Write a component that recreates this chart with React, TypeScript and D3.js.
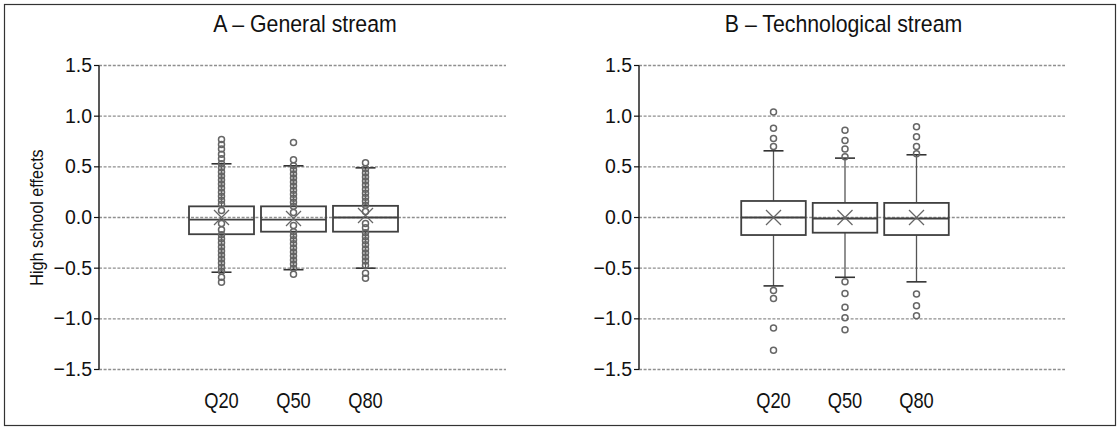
import React from "react";
import * as d3 from "d3";

const categories = ["Q20", "Q50", "Q80"];
const yTicks = [1.5, 1.0, 0.5, 0.0, -0.5, -1.0, -1.5];

// Panel A – General stream
const aTitle = "A – General stream";
const aLowerWhisker = [-0.54, -0.515, -0.5];
const aQ1 = [-0.165, -0.14, -0.14];
const aMedian = [-0.02, -0.02, 0.0];
const aQ3 = [0.11, 0.11, 0.115];
const aUpperWhisker = [0.53, 0.51, 0.49];
const aMean = [0.0, -0.01, 0.02];
const aPointsQ20 = [0.77, 0.72, 0.675, 0.625, 0.58, 0.53, 0.49, 0.45, 0.41, 0.37, 0.33, 0.29, 0.25, 0.21, 0.17, 0.13, 0.07, -0.06, -0.12, -0.17, -0.21, -0.25, -0.29, -0.33, -0.37, -0.41, -0.45, -0.49, -0.53, -0.59, -0.64];
const aPointsQ50 = [0.74, 0.57, 0.51, 0.47, 0.43, 0.39, 0.35, 0.31, 0.27, 0.23, 0.19, 0.15, 0.11, 0.05, -0.08, -0.14, -0.18, -0.22, -0.26, -0.3, -0.34, -0.38, -0.42, -0.46, -0.5, -0.56];
const aPointsQ80 = [0.54, 0.48, 0.44, 0.4, 0.36, 0.32, 0.28, 0.24, 0.2, 0.16, 0.12, 0.06, -0.06, -0.1, -0.15, -0.19, -0.23, -0.27, -0.31, -0.35, -0.39, -0.43, -0.47, -0.55, -0.6];

// Panel B – Technological stream
const bTitle = "B – Technological stream";
const bLowerWhisker = [-0.675, -0.59, -0.635];
const bQ1 = [-0.173, -0.15, -0.173];
const bMedian = [0.0, -0.01, -0.01];
const bQ3 = [0.163, 0.144, 0.144];
const bUpperWhisker = [0.658, 0.586, 0.619];
const bMean = [0.0, 0.0, 0.0];
const bPointsQ20 = [1.04, 0.88, 0.78, 0.7, -0.72, -0.8, -1.09, -1.31];
const bPointsQ50 = [0.86, 0.76, 0.675, 0.6, -0.635, -0.75, -0.885, -0.99, -1.107];
const bPointsQ80 = [0.896, 0.797, 0.7, 0.63, -0.755, -0.87, -0.97];

const yLabel = "High school effects";

const FONT = "'Liberation Sans', Arial, sans-serif";

type PanelProps = {
  title: string;
  axisX: number;
  plotRight: number;
  bandRange: [number, number];
  lower: number[];
  q1: number[];
  median: number[];
  q3: number[];
  upper: number[];
  mean: number[];
  points: number[][];
  showYLabel: boolean;
  titleX: number;
};

function Panel(p: PanelProps) {
  const y = d3.scaleLinear().domain([-1.5, 1.5]).range([369.5, 65.5]);
  const x = d3
    .scaleBand<string>()
    .domain(categories)
    .range(p.bandRange)
    .paddingInner(0.0972)
    .paddingOuter(0.0486);
  const bw = x.bandwidth();
  const cap = 20;
  const xs = 7.5;
  return (
    <g>
      <g transform={`translate(${p.titleX},32) scale(1,1.14)`}>
        <text x={0} y={0} textAnchor="middle" fontFamily={FONT} fontSize={21.3} fill="#111">
          {p.title}
        </text>
      </g>
      {yTicks.map((t) => (
        <g key={t}>
          <line x1={p.axisX} x2={p.plotRight} y1={y(t)} y2={y(t)} stroke="#8f8f8f" strokeWidth={1.3} strokeDasharray="3,1.6" />
          <line x1={p.axisX - 5} x2={p.axisX} y1={y(t)} y2={y(t)} stroke="#111" strokeWidth={1.2} />
          <g transform={`translate(${p.axisX - 7},${y(t) + 6.5}) scale(1,1.05)`}>
            <text x={0} y={0} textAnchor="end" fontFamily={FONT} fontSize={19.5} fill="#111">
              {d3.format(".1f")(t).replace("-", "\u2212")}
            </text>
          </g>
        </g>
      ))}
      <line x1={p.axisX} x2={p.axisX} y1={y(1.5)} y2={y(-1.5)} stroke="#111" strokeWidth={1.4} />
      {p.showYLabel && (
        <g transform={`translate(43,${(y(1.5) + y(-1.5)) / 2}) rotate(-90) scale(1,1.15)`}>
          <text x={0} y={0} textAnchor="middle" fontFamily={FONT} fontSize={16.2} fill="#111">
            {yLabel}
          </text>
        </g>
      )}
      {categories.map((c, i) => {
        const x0 = x(c)!;
        const cx = x0 + bw / 2;
        return (
          <g key={c}>
            <g transform={`translate(${cx},407.5) scale(1,1.17)`}>
              <text x={0} y={0} textAnchor="middle" fontFamily={FONT} fontSize={18.3} fill="#111">
                {c}
              </text>
            </g>
            <line x1={cx} x2={cx} y1={y(p.q3[i])} y2={y(p.upper[i])} stroke="#555" strokeWidth={1.3} />
            <line x1={cx} x2={cx} y1={y(p.q1[i])} y2={y(p.lower[i])} stroke="#555" strokeWidth={1.3} />
            <line x1={cx - cap / 2} x2={cx + cap / 2} y1={y(p.upper[i])} y2={y(p.upper[i])} stroke="#333" strokeWidth={1.6} />
            <line x1={cx - cap / 2} x2={cx + cap / 2} y1={y(p.lower[i])} y2={y(p.lower[i])} stroke="#333" strokeWidth={1.6} />
            <rect x={x0} y={y(p.q3[i])} width={bw} height={y(p.q1[i]) - y(p.q3[i])} fill="none" stroke="#404040" strokeWidth={1.8} />
            <line x1={x0} x2={x0 + bw} y1={y(p.median[i])} y2={y(p.median[i])} stroke="#404040" strokeWidth={1.8} />
            {p.points[i].map((v, j) => (
              <circle key={j} cx={cx} cy={y(v)} r={3} fill="none" stroke="#666" strokeWidth={1.5} />
            ))}
            <line x1={cx - xs} x2={cx + xs} y1={y(p.mean[i]) - xs} y2={y(p.mean[i]) + xs} stroke="#666" strokeWidth={1.2} />
            <line x1={cx - xs} x2={cx + xs} y1={y(p.mean[i]) + xs} y2={y(p.mean[i]) - xs} stroke="#666" strokeWidth={1.2} />
          </g>
        );
      })}
    </g>
  );
}

export default function App() {
  return (
    <svg width={1120} height={430} style={{ position: "absolute", left: 0, top: 0, background: "#fff" }}>
      <rect x={0} y={0} width={1120} height={430} fill="#fff" />
      <rect x={4.5} y={4.5} width={1111} height={421} fill="none" stroke="#333" strokeWidth={1.2} />
      <Panel
        title={aTitle}
        titleX={305}
        axisX={99}
        plotRight={506}
        bandRange={[185.5, 401.5]}
        lower={aLowerWhisker}
        q1={aQ1}
        median={aMedian}
        q3={aQ3}
        upper={aUpperWhisker}
        mean={aMean}
        points={[aPointsQ20, aPointsQ50, aPointsQ80]}
        showYLabel={true}
      />
      <Panel
        title={bTitle}
        titleX={843.5}
        axisX={639}
        plotRight={1065}
        bandRange={[737.75, 952.25]}
        lower={bLowerWhisker}
        q1={bQ1}
        median={bMedian}
        q3={bQ3}
        upper={bUpperWhisker}
        mean={bMean}
        points={[bPointsQ20, bPointsQ50, bPointsQ80]}
        showYLabel={false}
      />
    </svg>
  );
}
